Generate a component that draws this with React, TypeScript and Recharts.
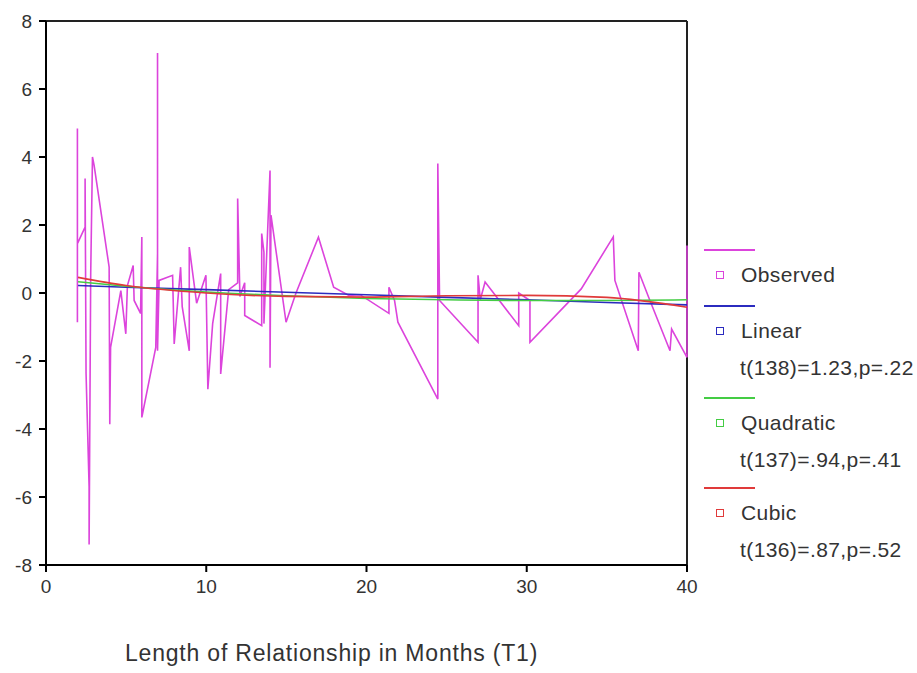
import React from "react";
import { LineChart, Line, XAxis, YAxis, ReferenceLine } from "recharts";

// observed values, in the order they are joined (sorted by months)
const obsX = [
  1.96, 1.96, 1.96, 2.44, 2.44, 2.5, 2.69, 2.69, 2.79, 2.9, 3.0, 3.94, 3.98, 4.03,
  4.67, 4.98, 5.08, 5.44, 5.5, 5.9, 5.98, 5.98, 6.85, 6.96, 6.96, 6.96, 7.06, 7.9,
  8.0, 8.4, 8.5, 8.94, 8.94, 9.4, 9.98, 10.1, 10.4, 10.9, 10.9, 11.4, 11.96, 11.96,
  12.1, 12.4, 12.4, 13.46, 13.46, 13.6, 13.6, 13.98, 13.98, 14.04, 14.98, 15.6, 17.0,
  17.95, 18.9, 19.6, 21.4, 21.4, 21.75, 21.96, 24.45, 24.45, 24.56, 26.96, 26.96,
  27.1, 27.4, 29.5, 29.5, 30.2, 30.2, 33.4, 35.4, 35.5, 36.96, 37.0, 37.6, 38.94,
  39.04, 40, 40,
];
const obsY = [
  -0.86, 4.84, 1.45, 1.94, 3.37, -2.37, -5.7, -7.4, 0.57, 4.0, 3.76, 0.76, -3.86, -1.6,
  0.07, -1.2, 0.22, 0.81, -0.22, -0.6, 1.65, -3.66, -1.6, 1.16, 7.06, -1.7, 0.37, 0.52,
  -1.5, 0.76, -0.4, -1.7, 1.35, -0.3, 0.52, -2.83, -0.9, 0.57, -2.38, 0.1, 0.3, 2.78,
  -0.1, 0.3, -0.66, -0.96, 1.75, 1.2, -0.9, 3.6, -2.2, 2.29, -0.86, 0.0, 1.64,
  0.17, -0.07, -0.05, -0.6, 0.17, -0.22, -0.86, -3.12, 3.81, -0.22, -1.45, 0.52,
  -0.2, 0.32, -0.96, 0.0, -0.22, -1.45, 0.12, 1.65, 0.37, -1.7, 0.61, -0.12, -1.7,
  -1.06, -1.89, 1.4,
];

// fitted curves, read at a few months
const fitX = [2, 5, 10, 15, 20, 25, 30, 35, 40];
const linearY = [0.22, 0.17, 0.1, 0.02, -0.05, -0.13, -0.2, -0.28, -0.35];
const quadraticY = [0.33, 0.2, 0.03, -0.08, -0.16, -0.2, -0.22, -0.22, -0.2];
const cubicY = [0.46, 0.22, 0.0, -0.1, -0.12, -0.08, -0.07, -0.13, -0.42];

const xTicks = [0, 10, 20, 30, 40];
const yTicks = [-8, -6, -4, -2, 0, 2, 4, 6, 8];

const observed = obsX.map((x, i) => ({ x, y: obsY[i] }));
const linear = fitX.map((x, i) => ({ x, y: linearY[i] }));
const quadratic = fitX.map((x, i) => ({ x, y: quadraticY[i] }));
const cubic = fitX.map((x, i) => ({ x, y: cubicY[i] }));

const COLORS = {
  observed: "#dc44dc",
  linear: "#2b2bbf",
  quadratic: "#44cc44",
  cubic: "#e03a3a",
};

const FONT = "Arial, 'Liberation Sans', sans-serif";
const tickStyle = { fill: "#333", fontSize: 19, fontFamily: FONT };

const legendItems = [
  { name: "Observed", color: COLORS.observed, stat: "" },
  { name: "Linear", color: COLORS.linear, stat: "t(138)=1.23,p=.22" },
  { name: "Quadratic", color: COLORS.quadratic, stat: "t(137)=.94,p=.41" },
  { name: "Cubic", color: COLORS.cubic, stat: "t(136)=.87,p=.52" },
];

const legendText = {
  position: "absolute" as const,
  fontSize: 21,
  letterSpacing: 0.4,
  lineHeight: "24px",
  fontFamily: FONT,
  color: "#333",
  whiteSpace: "nowrap" as const,
};

function Legend() {
  const tops = [250, 306, 398, 488];
  return (
    <>
      {legendItems.map((it, i) => (
        <React.Fragment key={it.name}>
          <div
            style={{
              position: "absolute",
              left: 704,
              top: tops[i] - 1,
              width: 51,
              height: 0,
              borderTop: `2px solid ${it.color}`,
            }}
          />
          <div
            style={{
              position: "absolute",
              left: 716,
              top: tops[i] + 21,
              width: 6,
              height: 6,
              border: `1.5px solid ${it.color}`,
            }}
          />
          <div style={{ ...legendText, left: 741, top: tops[i] + 13 }}>{it.name}</div>
          {it.stat && (
            <div style={{ ...legendText, left: 740, top: tops[i] + 50 }}>{it.stat}</div>
          )}
        </React.Fragment>
      ))}
    </>
  );
}

export default function App() {
  return (
    <div
      style={{
        position: "absolute",
        left: 0,
        top: 0,
        width: 917,
        height: 673,
        background: "#fff",
      }}
    >
      <LineChart
        width={917}
        height={673}
        margin={{ top: 21, right: 230, bottom: 78, left: 6 }}
      >
        <XAxis
          dataKey="x"
          type="number"
          domain={[0, 40]}
          ticks={xTicks}
          allowDuplicatedCategory={false}
          height={30}
          tick={tickStyle}
          tickSize={7}
          tickMargin={8}
          axisLine={{ stroke: "#000", strokeWidth: 2 }}
          tickLine={{ stroke: "#000", strokeWidth: 2 }}
        />
        <YAxis
          type="number"
          domain={[-8, 8]}
          ticks={yTicks}
          width={40}
          tick={tickStyle}
          tickSize={7}
          tickMargin={7}
          axisLine={{ stroke: "#000", strokeWidth: 2 }}
          tickLine={{ stroke: "#000", strokeWidth: 2 }}
        />
        <ReferenceLine y={8} stroke="#222" strokeWidth={2} />
        <ReferenceLine x={40} stroke="#222" strokeWidth={2} />
        <Line
          data={observed}
          dataKey="y"
          type="linear"
          stroke={COLORS.observed}
          strokeWidth={1.6}
          dot={false}
          isAnimationActive={false}
        />
        <Line
          data={linear}
          dataKey="y"
          type="linear"
          stroke={COLORS.linear}
          strokeWidth={1.6}
          dot={false}
          isAnimationActive={false}
        />
        <Line
          data={quadratic}
          dataKey="y"
          type="monotone"
          stroke={COLORS.quadratic}
          strokeWidth={1.6}
          dot={false}
          isAnimationActive={false}
        />
        <Line
          data={cubic}
          dataKey="y"
          type="monotone"
          stroke={COLORS.cubic}
          strokeWidth={1.6}
          dot={false}
          isAnimationActive={false}
        />
      </LineChart>
      <div
        style={{
          position: "absolute",
          left: 125,
          top: 640,
          fontSize: 23,
          letterSpacing: 0.8,
          lineHeight: "26px",
          fontFamily: FONT,
          color: "#333",
          whiteSpace: "nowrap",
        }}
      >
        Length of Relationship in Months (T1)
      </div>
      <Legend />
    </div>
  );
}
